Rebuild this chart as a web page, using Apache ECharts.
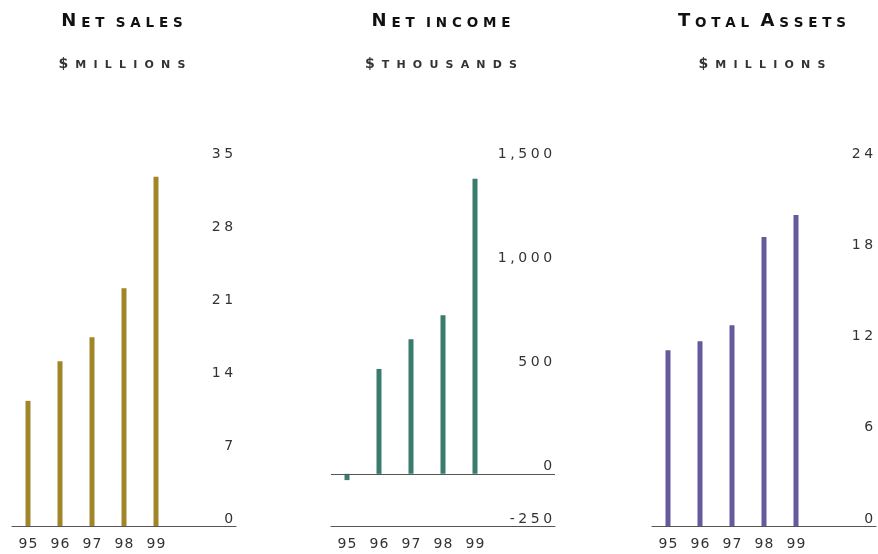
<!DOCTYPE html>
<html><head><meta charset="utf-8">
<script src="https://cdn.jsdelivr.net/npm/echarts@6/dist/echarts.min.js"></script>
<style>html,body{margin:0;padding:0;background:#fff}#c{width:878px;height:554px}</style>
</head><body><div id="c"></div>
<script>
// ---- data ----
const categories = ['95', '96', '97', '98', '99'];
const netSales = [12.0, 15.8, 18.1, 22.8, 33.5];
const netIncome = [-30, 503, 645, 760, 1415];
const totalAssets = [11.55, 12.15, 13.2, 19.0, 20.45];
const titles = ['Net sales', 'Net income', 'Total Assets'];
const units = ['$millions', '$thousands', '$millions'];
const salesTicks = [0, 7, 14, 21, 28, 35];
const incomeTicks = [-250, 0, 500, 1000, 1500];
const assetTicks = [0, 6, 12, 18, 24];

// ---- layout / style ----
const FONT = 'DejaVu Sans';
const colors = ['#a08628', '#3a7b6f', '#665a9e'];
const gridLefts = [12, 331, 652];
const GRID_W = 224, GRID_TOP = 161, GRID_H = 365;
const TITLE_SHIFT = -7;
const slotPad = ['', ''];

function toks(str, pick) {
  return Array.from(str).map(ch => {
    const [style, text] = pick(ch);
    return '{' + style + '|' + text + '}';
  }).join('');
}
function titleRich(str) {
  return toks(str, ch => ch === ' ' ? ['sp', ' '] : (ch === ch.toUpperCase() ? ['big', ch] : ['sm', ch.toUpperCase()]));
}
function unitRich(str) {
  return toks(str, ch => ch === '$' ? ['dol', ch] : ['usm', ch.toUpperCase()]);
}
function digits(str, st) {
  return toks(str, ch => [st, ch]);
}
const richTitle = {
  big: {fontFamily: FONT, fontSize: 18, fontWeight: 'bold', color: '#111', padding: [0, 2.4], verticalAlign: 'bottom'},
  sm: {fontFamily: FONT, fontSize: 13.5, fontWeight: 'bold', color: '#111', padding: [0, 2.4], verticalAlign: 'bottom'},
  sp: {fontFamily: FONT, fontSize: 13, color: '#111', padding: [0, 1], verticalAlign: 'bottom'},
  dol: {fontFamily: FONT, fontSize: 14, color: '#333', padding: [0, 3.5], verticalAlign: 'bottom'},
  usm: {fontFamily: FONT, fontSize: 11, color: '#333', padding: [0, 3.6], verticalAlign: 'bottom'}
};
const richTick = {
  d: {fontFamily: FONT, fontSize: 14, color: '#333', padding: [0, 1.8]}
};
const richYear = {
  y: {fontFamily: FONT, fontSize: 14, color: '#333', padding: [0, 0.6]}
};

const seriesData = [netSales, netIncome, totalAssets];
const tickSets = [salesTicks, incomeTicks, assetTicks];

function fmtNum(v) {
  return v.toLocaleString('en-US');
}

const option = {
  animation: false,
  backgroundColor: '#fff',
  title: [],
  grid: [],
  xAxis: [],
  yAxis: [],
  series: []
};

for (let i = 0; i < 3; i++) {
  const cx = gridLefts[i] + GRID_W / 2 + TITLE_SHIFT;
  option.title.push({
    text: titleRich(titles[i]), left: cx, top: 7, textAlign: 'center',
    textStyle: {rich: richTitle}
  });
  option.title.push({
    text: unitRich(units[i]), left: cx, top: 52, textAlign: 'center',
    textStyle: {rich: richTitle}
  });
  option.grid.push({left: gridLefts[i], top: GRID_TOP, width: GRID_W, height: GRID_H, containLabel: false});
  const ticks = tickSets[i];
  const interval = i === 1 ? 250 : ticks[1] - ticks[0];
  option.xAxis.push({
    type: 'category', gridIndex: i,
    data: categories.concat(slotPad),
    boundaryGap: true,
    axisLine: {show: true, onZero: false, lineStyle: {color: '#555', width: 1}},
    axisTick: {show: false},
    splitLine: {show: false},
    axisLabel: {margin: 11, interval: 0, formatter: v => v ? digits(v, 'y') : '', rich: richYear}
  });
  option.yAxis.push({
    type: 'value', gridIndex: i, position: 'right',
    min: ticks[0], max: ticks[ticks.length - 1], interval: interval,
    axisLine: {show: false}, axisTick: {show: false}, splitLine: {show: false},
    axisLabel: {
      inside: true, margin: 1, verticalAlign: 'bottom',
      formatter: v => ticks.indexOf(v) >= 0 ? digits(fmtNum(v), 'd') : '',
      rich: richTick
    }
  });
  const s = {
    type: 'bar', xAxisIndex: i, yAxisIndex: i,
    data: seriesData[i], barWidth: 5,
    itemStyle: {color: colors[i]},
    silent: true
  };
  if (i === 1) {
    s.markLine = {
      silent: true, symbol: ['none', 'none'], label: {show: false},
      lineStyle: {color: '#555', type: 'solid', width: 1},
      emphasis: {disabled: true},
      data: [{yAxis: 0}]
    };
  }
  option.series.push(s);
}

const chart = echarts.init(document.getElementById('c'), null, {renderer: 'canvas'});
chart.setOption(option);
</script>
</body></html>
